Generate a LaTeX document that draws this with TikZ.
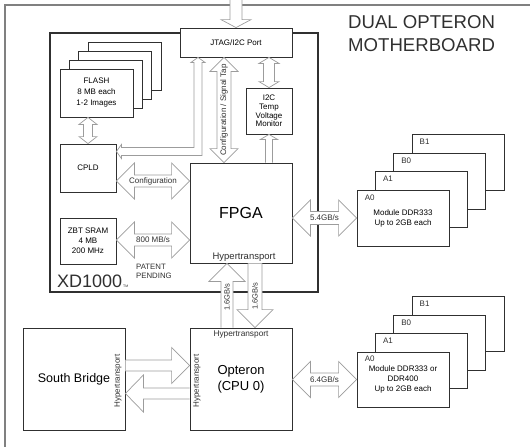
\documentclass[tikz,border=0pt]{standalone}
\usepackage{fontspec}
\setmainfont{Liberation Sans}
\usetikzlibrary{calc}
\definecolor{boxline}{HTML}{303030}
\definecolor{arrowline}{HTML}{9C9C9C}
\definecolor{frameline}{HTML}{808080}
\newcommand{\fsz}[2]{\fontsize{#1}{#2}\selectfont}
% hollow block arrows: points, shaft half width, head half width, head length
\newcommand{\dblh}[5]{%
	\draw [blockarrow] let \p1=(#1), \p2=(#2) in
		(\p1) -- (\x1+#5pt,\y1+#4pt) -- (\x1+#5pt,\y1+#3pt) -- (\x2-#5pt,\y1+#3pt) -- (\x2-#5pt,\y1+#4pt) -- (\x2,\y1)
		-- (\x2-#5pt,\y1-#4pt) -- (\x2-#5pt,\y1-#3pt) -- (\x1+#5pt,\y1-#3pt) -- (\x1+#5pt,\y1-#4pt) -- cycle;}
\newcommand{\dblv}[5]{%
	\draw [blockarrow] let \p1=(#1), \p2=(#2) in
		(\p1) -- (\x1+#4pt,\y1-#5pt) -- (\x1+#3pt,\y1-#5pt) -- (\x1+#3pt,\y2+#5pt) -- (\x1+#4pt,\y2+#5pt) -- (\x1,\y2)
		-- (\x1-#4pt,\y2+#5pt) -- (\x1-#3pt,\y2+#5pt) -- (\x1-#3pt,\y1-#5pt) -- (\x1-#4pt,\y1-#5pt) -- cycle;}
\newcommand{\onev}[5]{%
	\draw [blockarrow] let \p1=(#1), \p2=(#2), \n1={#5*sign(\y2-\y1)} in
		(\x2-#3pt,\y1) -- ({\x2-#3pt},{\y2-(\n1)*1pt}) -- ({\x2-#4pt},{\y2-(\n1)*1pt}) -- (\p2)
		-- ({\x2+#4pt},{\y2-(\n1)*1pt}) -- ({\x2+#3pt},{\y2-(\n1)*1pt}) -- (\x2+#3pt,\y1);}
\newcommand{\oneh}[5]{%
	\draw [blockarrow] let \p1=(#1), \p2=(#2), \n1={#5*sign(\x2-\x1)} in
		(\x1,\y2+#3pt) -- ({\x2-(\n1)*1pt},{\y2+#3pt}) -- ({\x2-(\n1)*1pt},{\y2+#4pt}) -- (\p2)
		-- ({\x2-(\n1)*1pt},{\y2-#4pt}) -- ({\x2-(\n1)*1pt},{\y2-#3pt}) -- (\x1,\y2-#3pt);}

\begin{document}
\begin{tikzpicture}[x=1pt,y=-1pt,
	box/.style={draw=boxline, line width=0.8pt, fill=white, inner sep=0pt, align=center, font=\fsz{8}{10}},
	flashbox/.style={box, minimum width=73, minimum height=48},
	dimm/.style={box, minimum width=92, minimum height=56},
	blockarrow/.style={draw=arrowline, line width=0.7pt, fill=white, line join=miter},
	lbl/.style={inner sep=0pt, font=\fsz{8}{10}, text=boxline}]
	\useasboundingbox (0,0) rectangle (530,447);
	% frames
	\draw [frameline, line width=2pt] (5,447) -- (5,5) -- (530,5);
	\draw [boxline, line width=1.4pt] (50,33) rectangle (318,292);
	\node [anchor=north west, inner sep=0pt, align=left, font=\fsz{18.6}{23}, text=boxline] (title) at (348,15) {DUAL OPTERON\\MOTHERBOARD};
	\node [anchor=base west, inner sep=0pt, font=\fsz{18}{20}, text=boxline] (xd) at (57,287) {XD1000};
	\node [anchor=base west, inner sep=0pt, font=\fsz{3.5}{4}, text=boxline] (tm) at (xd.base east) {\,TM};
	\node [anchor=base west, inner sep=0pt, align=left, font=\fsz{7.8}{9}, text=boxline] (patent) at (136,278) {PATENT\\PENDING};

	% FPGA card
	\foreach \i in {3,2,1}
		\node [flashbox] (flash\i) at ({96.5+9.3*\i},{93-9*\i}) {};
	\node [flashbox, font=\fsz{8}{11}] (flash) at (96.5,93) {FLASH\\8 MB each\\1-2 Images};
	\node [box, minimum width=56, minimum height=48] (cpld) at (88,168) {CPLD};
	\node [box, minimum width=56, minimum height=46] (zbt) at (88,241) {ZBT SRAM\\4 MB\\200 MHz};
	\node [box, minimum width=102, minimum height=100, font=\fsz{16}{18}] (fpga) at (241,213) {FPGA};
	\node [lbl, font=\fsz{9.5}{11}] (fpgaht) at (244,257) {Hypertransport};
	\node [box, minimum width=112, minimum height=29] (jtag) at (236,42.5) {JTAG/I2C Port};
	\node [box, minimum width=46, minimum height=46, font=\fsz{8}{8.8}] (i2c) at (269,111) {I2C\\Temp\\Voltage\\Monitor};

	% motherboard
	\node [box, minimum width=102, minimum height=102, font=\fsz{13}{16}] (cpu) at (241,379) {Opteron\\(CPU 0)};
	\node [lbl, font=\fsz{8.3}{10}] (cpuht) at (241,335) {Hypertransport};
	\node [lbl, rotate=90] (cpuhtl) at (197,381) {Hypertransport};
	\node [box, minimum width=102, minimum height=102, font=\fsz{12.5}{15}] (sb) at (74,379) {South Bridge};
	\node [lbl, rotate=90] (sbht) at (118,381) {Hypertransport};

	% memory modules
	\foreach \m/\k in {B1/3,B0/2,A1/1} {
		\node [dimm] (up\m) at ({403+18.3*\k},{218-18.5*\k}) {};
		\node [lbl, anchor=north west] (up\m lbl) at ([shift={(8,5)}]up\m.north west) {\m};
	}
	\node [dimm] (upA0) at (403,218) {Module DDR333\\Up to 2GB each};
	\node [lbl, anchor=north west] (upA0lbl) at ([shift={(8,5)}]upA0.north west) {A0};
	\foreach \m/\k in {B1/3,B0/2,A1/1} {
		\node [dimm, minimum height=55] (lo\m) at ({403+18.3*\k},{379.5-18.5*\k}) {};
		\node [lbl, anchor=north west] (lo\m lbl) at ([shift={(8,5)}]lo\m.north west) {\m};
	}
	\node [dimm, minimum height=55, font=\fsz{8}{9.6}] (loA0) at (403,379.5) {Module DDR333 or\\DDR400\\Up to 2GB each};
	\node [lbl, anchor=north west] (loA0lbl) at ([shift={(8,4)}]loA0.north west) {A0};

	% links
	\onev{jtag.north |- 0,0}{jtag.north}{6}{15}{8}
	\dblv{224,0 |- jtag.south}{224,0 |- fpga.north}{7}{14}{14}
	\node [lbl, rotate=90] (sigtap) at (224,110) {Configuration / Signal Tap};
	\dblv{i2c.north |- jtag.south}{i2c.north}{5.5}{10}{6}
	\onev{i2c.south |- fpga.north}{i2c.south}{3.5}{8.5}{5}
	\draw [blockarrow] let \p1=(cpld.east |- 0,151.5), \p2=(198,0 |- jtag.south) in
		(\p1) -- (\x1+5pt,\y1+7pt) -- (\x1+5pt,\y1+4pt) -- (\x2-4pt,\y1+4pt) -- (\x2-4pt,\y2-5pt) -- (\x2-7pt,\y2-5pt) -- (\p2)
		-- (\x2+7pt,\y2-5pt) -- (\x2+4pt,\y2-5pt) -- (\x2+4pt,\y1-4pt) -- (\x1+5pt,\y1-4pt) -- (\x1+5pt,\y1-7pt) -- cycle;
	\dblv{cpld.north |- flash.south}{cpld.north}{4.5}{9}{7}
	\dblh{cpld.east |- 0,181}{fpga.west |- 0,181}{6}{18}{18}
	\node [lbl] (cfg) at (153,181) {Configuration};
	\dblh{zbt.east |- 0,240}{fpga.west |- 0,240}{6}{18}{18}
	\node [lbl] (zbtbw) at (153,240) {800 MB/s};
	\dblh{fpga.east |- upA0.west}{upA0.west}{6.5}{18}{18}
	\node [lbl] (upbw) at (324.5,218) {5.4GB/s};
	\onev{227,0 |- cpu.north}{227,0 |- fpga.south}{6}{18}{18}
	\node [lbl, rotate=90, font=\fsz{7.5}{9}] (htup) at (227,297) {1.6GB/s};
	\onev{255,0 |- fpga.south}{255,0 |- cpu.north}{7}{18}{18}
	\node [lbl, rotate=90, font=\fsz{7.5}{9}] (htdown) at (255,296) {1.6GB/s};
	\oneh{sb.east |- 0,365.5}{cpu.west |- 0,365.5}{5.5}{18}{18}
	\oneh{cpu.west |- 0,393.5}{sb.east |- 0,393.5}{5.5}{18.5}{18}
	\dblh{cpu.east |- loA0.west}{loA0.west}{6.5}{18}{18}
	\node [lbl] (lobw) at (324.5,379.5) {6.4GB/s};
\end{tikzpicture}
\end{document}
